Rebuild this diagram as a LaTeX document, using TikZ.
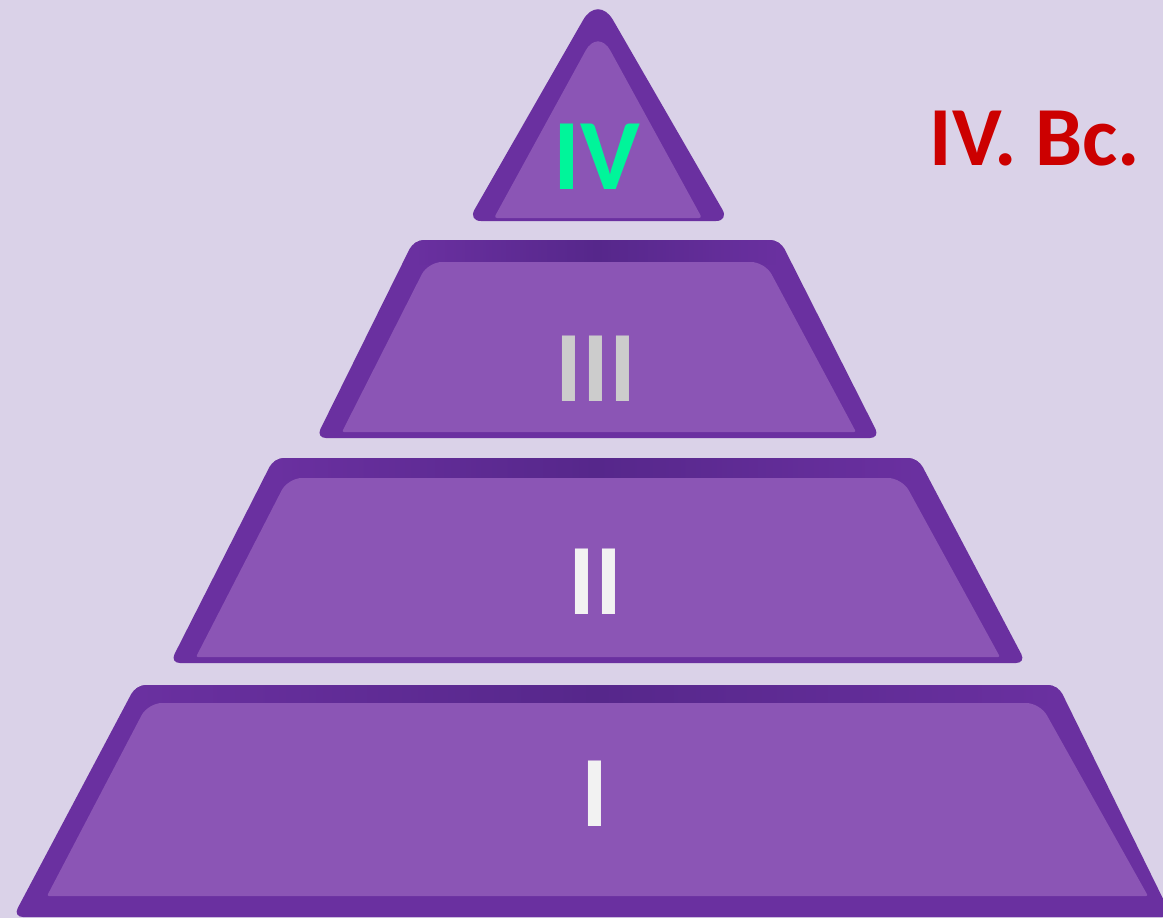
\documentclass[tikz,border=0pt]{standalone}
\usepackage{fontspec}
\setmainfont{Carlito}
\definecolor{bgc}{HTML}{DAD2E8}
\definecolor{borderc}{HTML}{6A30A0}
\definecolor{topc}{HTML}{56278B}
\definecolor{innerc}{HTML}{8B55B5}
\definecolor{ivgreen}{HTML}{00F59A}
\definecolor{greyc}{HTML}{CCCCCC}
\definecolor{whitec}{HTML}{F2F2F2}
\definecolor{redc}{HTML}{CC0000}
\begin{document}
\begin{tikzpicture}[x=1pt,y=-1pt,
  outerf/.style={fill=borderc, rounded corners=10pt},
  lab/.style={font=\fontsize{101}{101}\selectfont\bfseries, inner sep=0pt, anchor=base}]
\fill[bgc] (0,0) rectangle (1163,918);
\useasboundingbox (0,0) rectangle (1163,918);
\clip (0,0) rectangle (1163,918);

% Tier IV (triangle); a corner takes the rounding in force on the segment that reaches it
\fill[borderc] (598,221) [rounded corners=13pt] -- (468,221) [rounded corners=30pt] -- (598,-6) [rounded corners=13pt] -- (729,221) -- cycle;
\fill[innerc] (598,218) [rounded corners=3pt] -- (494,218) [rounded corners=26pt] -- (598,28) [rounded corners=3pt] -- (702,218) -- cycle;

% Tier III
\fill[outerf] (598,240) -- (780,240) -- (880,438) -- (316,438) -- (414,240) -- cycle;
\begin{scope}
  \clip[rounded corners=10pt] (598,240) -- (780,240) -- (880,438) -- (316,438) -- (414,240) -- cycle;
  \shade[left color=borderc, right color=borderc, middle color=topc] (414,240) rectangle (780,264);
\end{scope}
\fill[innerc] (598,432) [rounded corners=2pt] -- (342,432) [rounded corners=14pt] -- (428,262) -- (765,262) [rounded corners=2pt] -- (856,432) -- cycle;

% Tier II
\fill[outerf] (598,458) -- (918,458) -- (1026,663) -- (170,663) -- (274,458) -- cycle;
\begin{scope}
  \clip[rounded corners=10pt] (598,458) -- (918,458) -- (1026,663) -- (170,663) -- (274,458) -- cycle;
  \shade[left color=borderc, right color=borderc, middle color=topc] (274,458) rectangle (918,480);
\end{scope}
\fill[innerc] (598,657) [rounded corners=2pt] -- (196,657) [rounded corners=14pt] -- (288,478) -- (902,478) [rounded corners=2pt] -- (1000,657) -- cycle;

% Tier I
\fill[outerf] (598,685) -- (1058,685) -- (1172,917) -- (13,917) -- (136,685) -- cycle;
\begin{scope}
  \clip[rounded corners=10pt] (598,685) -- (1058,685) -- (1172,917) -- (13,917) -- (136,685) -- cycle;
  \shade[left color=borderc, right color=borderc, middle color=topc] (136,685) rectangle (1058,705);
\end{scope}
\fill[innerc] (598,896) [rounded corners=2pt] -- (47,896) [rounded corners=14pt] -- (148,703) -- (1040,703) [rounded corners=2pt] -- (1148,896) -- cycle;

% Labels
\node[lab, text=ivgreen] (tIV) at (596.5,189) {IV};
\node[lab, text=greyc] (tIII) at (595.5,401) {III};
\node[lab, text=whitec] (tII) at (595,614) {II};
\node[lab, text=whitec] (tI) at (595,826) {I};
\node[font=\fontsize{84}{84}\selectfont\bfseries, text=redc, inner sep=0pt, anchor=base] (title) at (1035,165) {IV. Bc.};
\end{tikzpicture}
\end{document}
